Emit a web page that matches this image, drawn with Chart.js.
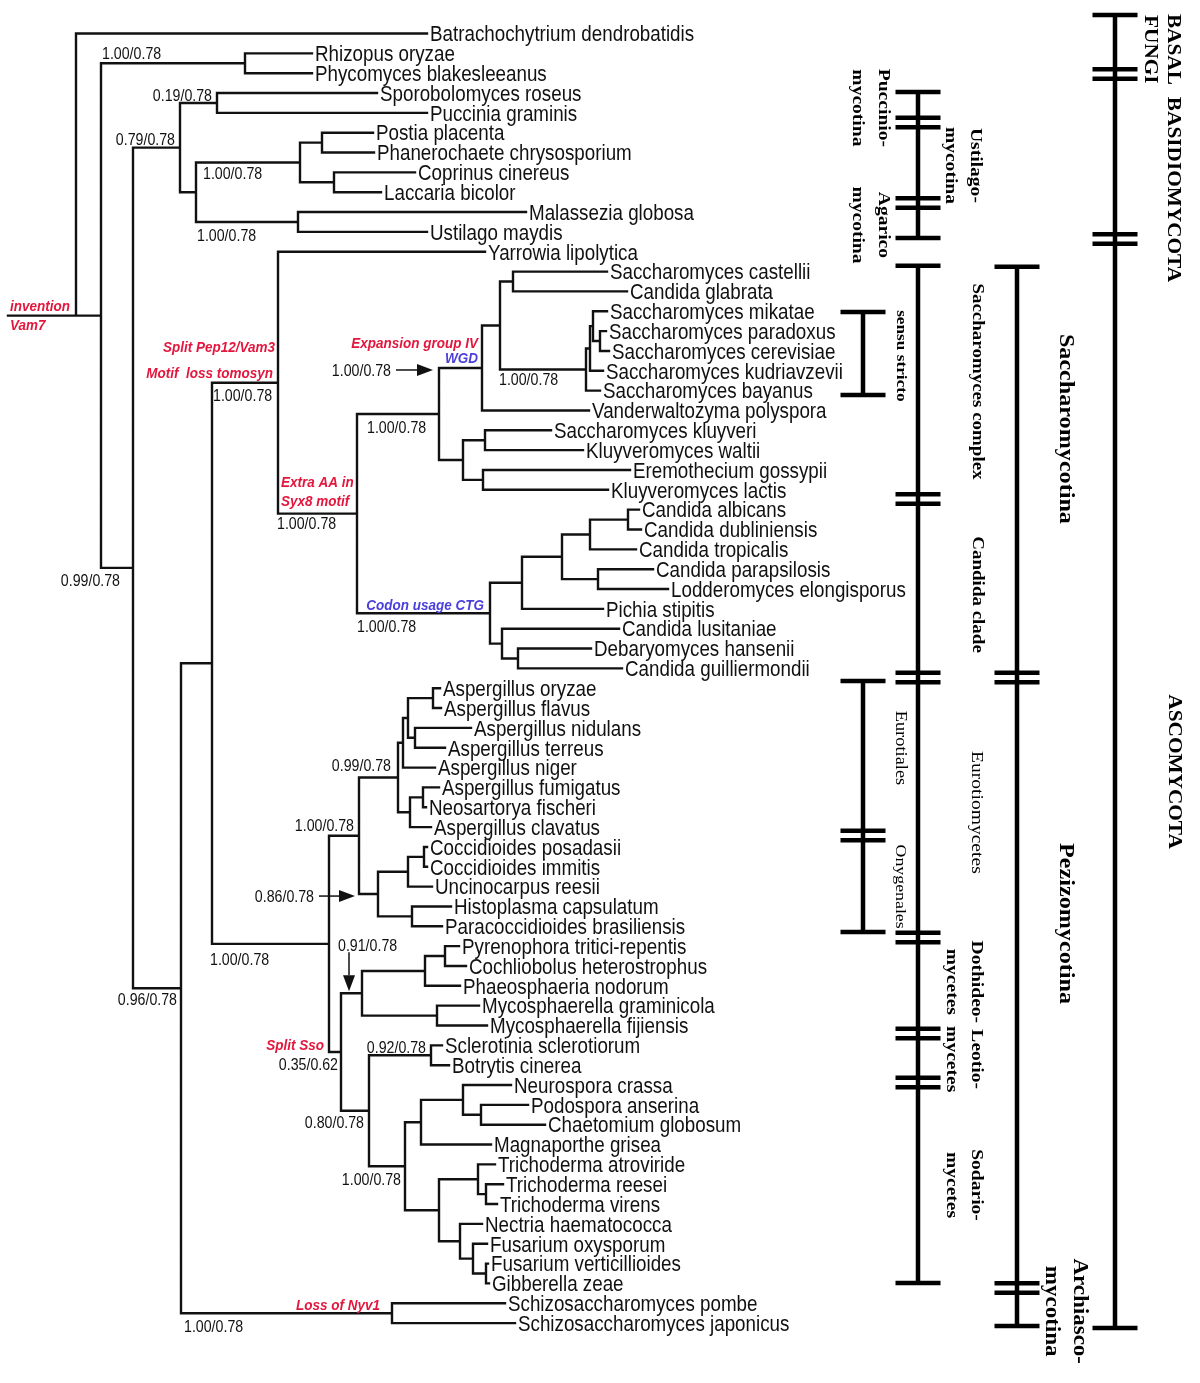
<!DOCTYPE html>
<html>
<head>
<meta charset="utf-8">
<script src="https://cdn.jsdelivr.net/npm/chart.js@4.4.1/dist/chart.umd.min.js"></script>
<style>
  html, body { margin: 0; background: #fff; }
  #wrap { width: 1200px; height: 1383px; position: relative; }
</style>
</head>
<body>
<div id="wrap"><canvas id="tree"></canvas></div>
<script>
// leaves, top to bottom (y value = row index)
const taxa = [
  "Batrachochytrium dendrobatidis", "Rhizopus oryzae", "Phycomyces blakesleeanus",
  "Sporobolomyces roseus", "Puccinia graminis", "Postia placenta", "Phanerochaete chrysosporium",
  "Coprinus cinereus", "Laccaria bicolor", "Malassezia globosa", "Ustilago maydis",
  "Yarrowia lipolytica", "Saccharomyces castellii", "Candida glabrata", "Saccharomyces mikatae",
  "Saccharomyces paradoxus", "Saccharomyces cerevisiae", "Saccharomyces kudriavzevii",
  "Saccharomyces bayanus", "Vanderwaltozyma polyspora", "Saccharomyces kluyveri",
  "Kluyveromyces waltii", "Eremothecium gossypii", "Kluyveromyces lactis", "Candida albicans",
  "Candida dubliniensis", "Candida tropicalis", "Candida parapsilosis", "Lodderomyces elongisporus",
  "Pichia stipitis", "Candida lusitaniae", "Debaryomyces hansenii", "Candida guilliermondii",
  "Aspergillus oryzae", "Aspergillus flavus", "Aspergillus nidulans", "Aspergillus terreus",
  "Aspergillus niger", "Aspergillus fumigatus", "Neosartorya fischeri", "Aspergillus clavatus",
  "Coccidioides posadasii", "Coccidioides immitis", "Uncinocarpus reesii", "Histoplasma capsulatum",
  "Paracoccidioides brasiliensis", "Pyrenophora tritici-repentis", "Cochliobolus heterostrophus",
  "Phaeosphaeria nodorum", "Mycosphaerella graminicola", "Mycosphaerella fijiensis",
  "Sclerotinia sclerotiorum", "Botrytis cinerea", "Neurospora crassa", "Podospora anserina",
  "Chaetomium globosum", "Magnaporthe grisea", "Trichoderma atroviride", "Trichoderma reesei",
  "Trichoderma virens", "Nectria haematococca", "Fusarium oxysporum", "Fusarium verticillioides",
  "Gibberella zeae", "Schizosaccharomyces pombe", "Schizosaccharomyces japonicus"
];

// depth of each leaf tip (x value)
const tipX = [
  427, 312, 312, 377, 427, 373, 374, 415, 381, 526, 427,
  485, 607, 627, 607, 606, 609, 603, 600, 589, 551, 583, 630, 608,
  639, 641, 636, 653, 668, 603, 619, 591, 622,
  440, 441, 471, 445, 435, 439, 426, 431,
  427, 427, 432, 451, 442,
  459, 466, 460, 479, 487, 442, 449,
  511, 528, 545, 491, 495, 503, 497, 482, 487, 488, 489,
  505, 515
];

// internal nodes: id, depth, children (leaf index or node id)
const clades = [
  ["root", 76, [0, "n1"]],
  ["n1", 101, ["muco", "dik"]],
  ["muco", 245, [1, 2]],
  ["dik", 133, ["basid", "asco"]],
  ["basid", 180, ["pucc", "n196"]],
  ["pucc", 217, [3, 4]],
  ["n196", 196, ["agar", "ustil"]],
  ["agar", 300, ["ag1", "ag2"]],
  ["ag1", 322, [5, 6]],
  ["ag2", 334, [7, 8]],
  ["ustil", 298, [9, 10]],
  ["asco", 181, ["a1", "schizo"]],
  ["a1", 212, ["saccharo", "pezizo"]],
  ["saccharo", 278, [11, "s2"]],
  ["s2", 357, ["scx", "ctg"]],
  ["scx", 439, ["wgd", "kle"]],
  ["wgd", 482, ["w1", 19]],
  ["w1", 500, ["w2", "ss"]],
  ["w2", 513, [12, 13]],
  ["ss", 586, ["ss1", 18]],
  ["ss1", 590, ["ss2", 17]],
  ["ss2", 593, [14, "ss3"]],
  ["ss3", 600, [15, 16]],
  ["kle", 463, ["k1", "k2"]],
  ["k1", 485, [20, 21]],
  ["k2", 483, [22, 23]],
  ["ctg", 490, ["c1", "c5"]],
  ["c1", 522, ["c2", 29]],
  ["c2", 562, ["c3", "c4"]],
  ["c3", 590, ["c3a", 26]],
  ["c3a", 628, [24, 25]],
  ["c4", 598, [27, 28]],
  ["c5", 502, [30, "c6"]],
  ["c6", 518, [31, 32]],
  ["pezizo", 329, ["euro", "p2"]],
  ["euro", 359, ["eurot", "onyg"]],
  ["eurot", 398, ["e1", "e4"]],
  ["e1", 403, ["e2", 37]],
  ["e2", 408, ["e3", "e3b"]],
  ["e3", 433, [33, 34]],
  ["e3b", 415, [35, 36]],
  ["e4", 410, ["e5", 40]],
  ["e5", 423, [38, 39]],
  ["onyg", 378, ["o1", "o3"]],
  ["o1", 408, ["o2", 43]],
  ["o2", 424, [41, 42]],
  ["o3", 412, [44, 45]],
  ["p2", 341, ["doth", "p3"]],
  ["doth", 362, ["d1", "d3"]],
  ["d1", 425, ["d2", 48]],
  ["d2", 445, [46, 47]],
  ["d3", 437, [49, 50]],
  ["p3", 369, ["leot", "sord"]],
  ["leot", 431, [51, 52]],
  ["sord", 405, ["s1", "hyp"]],
  ["s1", 421, ["s2b", 56]],
  ["s2b", 463, [53, "s3"]],
  ["s3", 481, [54, 55]],
  ["hyp", 439, ["t1", "f1"]],
  ["t1", 478, [57, "t2"]],
  ["t2", 486, [58, 59]],
  ["f1", 460, [60, "f2"]],
  ["f2", 473, [61, "f3"]],
  ["f3", 486, [62, 63]],
  ["schizo", 392, [64, 65]]
];
const rootStart = 8;

// posterior / bootstrap support
const supports = [
  ["muco", "1.00/0.78"], ["pucc", "0.19/0.78"], ["basid", "0.79/0.78"], ["agar", "1.00/0.78"],
  ["ustil", "1.00/0.78"], ["dik", "0.99/0.78"], ["asco", "0.96/0.78"], ["schizo", "1.00/0.78"],
  ["pezizo", "1.00/0.78"], ["saccharo", "1.00/0.78"], ["s2", "1.00/0.78"], ["scx", "1.00/0.78"],
  ["ss", "1.00/0.78"], ["ctg", "1.00/0.78"], ["eurot", "0.99/0.78"], ["euro", "1.00/0.78"],
  ["p2", "0.35/0.62"], ["leot", "0.92/0.78"], ["p3", "0.80/0.78"], ["sord", "1.00/0.78"]
];
const arrowSupports = [["wgd", "1.00/0.78"], ["onyg", "0.86/0.78"], ["doth", "0.91/0.78"]];

// events mapped on branches
const events = [
  ["root", "invention"], ["root", "Vam7"],
  ["saccharo", "Split Pep12/Vam3"], ["saccharo", "Motif  loss tomosyn"],
  ["s2", "Extra AA in"], ["s2", "Syx8 motif"],
  ["wgd", "Expansion group IV"], ["wgd", "WGD"],
  ["ctg", "Codon usage CTG"], ["p2", "Split Sso"], ["schizo", "Loss of Nyv1"]
];
const eventKind = ["snare", "snare", "snare", "snare", "snare", "snare", "snare", "genome", "genome", "snare", "snare"];

// taxonomic ranks: cut points along the leaf axis
const phylumCuts = [-0.93, 2.04, 10.36, 65.25];
const subphylumCuts = [11.76, 32.46, 63.23, 65.15];
const basidioClassCuts = [2.95, 4.49, 8.54, 10.31];
const ascoClassCuts = [11.71, 23.46, 32.46, 45.56, 50.4, 52.87, 62.98];
const sensuStrictoCuts = [14.04, 18.22];
const orderCuts = [32.64, 40.42, 45.29];

const rankTitles = [
  "BASAL\nFUNGI", "BASIDIOMYCOTA", "ASCOMYCOTA", "Saccharomycotina", "Pezizomycotina",
  "Archiasco-\nmycotina", "Saccharomyces complex", "Candida clade", "Eurotiomycetes",
  "Dothideo-\nmycetes", "Leotio-\nmycetes", "Sodario-\nmycetes", "Puccinio-\nmycotina",
  "Ustilago-\nmycotina", "Agarico\nmycotina", "sensu stricto", "Eurotiales", "Onygenales"
];
const rankCentre = [0.8, 7.86, 37.2, 19.93, 44.86, 64.4, 17.54, 28.28, 39.26, 47.8, 51.7, 58.04, 3.75, 6.65, 9.65, 16.25, 36.01, 43.0];

// ---------- layout ----------
const node = {};
const parentOf = {};
clades.forEach(([id, x, kids]) => {
  node[id] = { x, kids };
  kids.forEach(k => { if (typeof k === "string") parentOf[k] = id; });
});
const yMemo = {};
function yOf(k) {
  if (typeof k === "number") return k;
  if (yMemo[k] === undefined) {
    const kids = node[k].kids;
    yMemo[k] = (yOf(kids[0]) + yOf(kids[kids.length - 1])) / 2;
  }
  return yMemo[k];
}
const xOf = k => typeof k === "number" ? tipX[k] : node[k].x;
function stem(id) {
  if (id === "root") {
    const kids = node.root.kids;
    return { x0: rootStart, x1: node.root.x, y: yOf(kids[kids.length - 1]) };
  }
  return { x0: node[parentOf[id]].x, x1: node[id].x, y: yOf(id) };
}

const GAP = { x: null, y: null };
const treePts = [];
clades.forEach(([id, x, kids]) => {
  treePts.push({ x, y: yOf(kids[0]) }, { x, y: yOf(kids[kids.length - 1]) }, GAP);
  kids.forEach(k => treePts.push({ x, y: yOf(k) }, { x: xOf(k), y: yOf(k) }, GAP));
});
const rs = stem("root");
treePts.push({ x: rs.x0, y: rs.y }, { x: rs.x1, y: rs.y }, GAP);

const barPts = [];
function bracket(x, cuts) {
  const w = 22.5, g = 0.24;
  barPts.push({ x, y: cuts[0] }, { x, y: cuts[cuts.length - 1] }, GAP);
  cuts.forEach((c, i) => {
    const ends = (i === 0 || i === cuts.length - 1) ? [c] : [c - g, c + g];
    ends.forEach(v => barPts.push({ x: x - w, y: v }, { x: x + w, y: v }, GAP));
  });
}
bracket(1115, phylumCuts);
bracket(1017, subphylumCuts);
bracket(918, basidioClassCuts);
bracket(918, ascoClassCuts);
bracket(863, sensuStrictoCuts);
bracket(863, orderCuts);

// placement of labels relative to a branch: anchor 'p' = left-aligned from parent, 'n' = right-aligned to node
const supportPlace = {
  muco: ["p", 1, -10], pucc: ["n", -5, -8], basid: ["n", -5, -8], agar: ["p", 7, 11],
  ustil: ["p", 1, 13], dik: ["n", -13, 12], asco: ["n", -4, 11], schizo: ["p", 3, 13],
  pezizo: ["p", -2, 15], saccharo: ["p", 1, 12], s2: ["p", -1, 10], scx: ["p", 10, 13],
  ss: ["p", -1, 10], ctg: ["p", 0, 13], eurot: ["n", -7, -12], euro: ["n", -5, -11],
  p2: ["n", -3, 12], leot: ["n", -5, -8], p3: ["n", -5, 11], sord: ["n", -4, 13]
};
const eventPlace = [
  ["p", 2, -10], ["p", 2, 9], ["n", -3, -36], ["n", -5, -10], ["p", 3, -32], ["p", 3, -13],
  ["n", -4, -26], ["n", -4, -11], ["n", -6, -9], ["n", -17, -8], ["n", -12, -9]
];
const arrowPlace = { wgd: ["left", -6, 37], onyg: ["left", -4, 36], doth: ["down", 8, 39] };
const eventColor = { snare: "#e3173d", genome: "#4b3fdc" };
const SERIF = '"Liberation Serif", "Times New Roman", serif';
const rankStyle = [
  [1174, 23, "bold", 18.5], [1174, 0, "bold", 18.5], [1175, 0, "bold", 18.5],
  [1067, 0, "bold", 21], [1067, 0, "bold", 21], [1081, 28, "bold", 20],
  [978, 0, "bold", 16.5], [978, 0, "bold", 16.5], [978, 0, "normal", 17],
  [978, 25, "bold", 17], [978, 25, "bold", 17], [978, 25, "bold", 17],
  [885, 26, "bold", 17], [977, 25, "bold", 17], [885, 26, "bold", 17],
  [902, 0, "bold", 15], [901, 0, "normal", 16], [901, 0, "normal", 15.5]
];
const STRETCH = 1.15;
const SANS = '"Liberation Sans", Arial, sans-serif';

function hText(ctx, text, x, cy, size, style, color, align) {
  ctx.save();
  ctx.font = `${style} ${size}px ${SANS}`;
  ctx.fillStyle = color;
  ctx.textAlign = align;
  ctx.textBaseline = "alphabetic";
  ctx.translate(x, cy);
  ctx.scale(1, STRETCH);
  ctx.fillText(text, 0, 0.36 * size);
  ctx.restore();
}
function vText(ctx, text, cx, cy, size, weight) {
  ctx.save();
  ctx.font = `${weight} ${size}px ${SERIF}`;
  ctx.fillStyle = "#000";
  ctx.textAlign = "center";
  ctx.textBaseline = "alphabetic";
  ctx.translate(cx, cy);
  ctx.rotate(Math.PI / 2);
  ctx.scale(STRETCH, 1);
  ctx.fillText(text, 0, 0.33 * size);
  ctx.restore();
}

const labelPlugin = {
  id: "treeLabels",
  afterDatasetsDraw(chart) {
    const ctx = chart.ctx;
    const xs = chart.scales.x, ys = chart.scales.y;
    const px = v => xs.getPixelForValue(v), py = v => ys.getPixelForValue(v);

    taxa.forEach((name, i) => hText(ctx, name, px(tipX[i]) + 3, py(i), 18.8, "normal", "#111", "left"));

    const place = (id, p, text, size, style, color) => {
      const s = stem(id);
      const [anchor, dx, dy] = p;
      const x = anchor === "p" ? px(s.x0) + dx : px(s.x1) + dx;
      hText(ctx, text, x, py(s.y) + dy, size, style, color, anchor === "p" ? "left" : "right");
    };
    supports.forEach(([id, text]) => place(id, supportPlace[id], text, 14.2, "normal", "#111"));
    events.forEach(([id, text], i) => place(id, eventPlace[i], text, 13.5, "italic bold", eventColor[eventKind[i]]));

    arrowSupports.forEach(([id, text]) => {
      const s = stem(id);
      const [dir, dx, len] = arrowPlace[id];
      const head = 16, hw = 6;
      ctx.save();
      ctx.strokeStyle = "#111"; ctx.fillStyle = "#111"; ctx.lineWidth = 1.5;
      if (dir === "left") {
        const tx = px(s.x0) + dx, ty = py(s.y) + 2, tail = tx - len;
        ctx.beginPath(); ctx.moveTo(tail, ty); ctx.lineTo(tx - head, ty); ctx.stroke();
        ctx.beginPath(); ctx.moveTo(tx, ty); ctx.lineTo(tx - head, ty - hw); ctx.lineTo(tx - head, ty + hw); ctx.closePath(); ctx.fill();
        ctx.restore();
        hText(ctx, text, tail - 5, ty, 14.2, "normal", "#111", "right");
      } else {
        const tx = px(s.x0) + dx, ty = py(s.y) - 2, tail = ty - len;
        ctx.beginPath(); ctx.moveTo(tx, tail); ctx.lineTo(tx, ty - head); ctx.stroke();
        ctx.beginPath(); ctx.moveTo(tx, ty); ctx.lineTo(tx - hw, ty - head); ctx.lineTo(tx + hw, ty - head); ctx.closePath(); ctx.fill();
        ctx.restore();
        hText(ctx, text, tx - 11, tail - 7, 14.2, "normal", "#111", "left");
      }
    });

    rankTitles.forEach((t, i) => {
      const [cx, gap, weight, size] = rankStyle[i];
      t.split("\n").forEach((line, j) => vText(ctx, line, cx - j * gap, py(rankCentre[i]), size, weight));
    });
  }
};

new Chart(document.getElementById("tree"), {
  type: "scatter",
  data: {
    datasets: [
      { data: treePts, showLine: true, borderColor: "#111", borderWidth: 2.4, borderCapStyle: "square", pointRadius: 0, spanGaps: false },
      { data: barPts, showLine: true, borderColor: "#000", borderWidth: 4.5, borderCapStyle: "butt", pointRadius: 0, spanGaps: false }
    ]
  },
  options: {
    responsive: true,
    maintainAspectRatio: false,
    animation: false,
    events: [],
    layout: { padding: 0 },
    plugins: { legend: { display: false }, tooltip: { enabled: false } },
    scales: {
      x: { type: "linear", display: false, min: 0, max: 1200 },
      y: { type: "linear", display: false, reverse: true, min: -33.5 / 19.84, max: (1383 - 33.5) / 19.84 }
    }
  },
  plugins: [labelPlugin]
});
</script>
</body>
</html>
